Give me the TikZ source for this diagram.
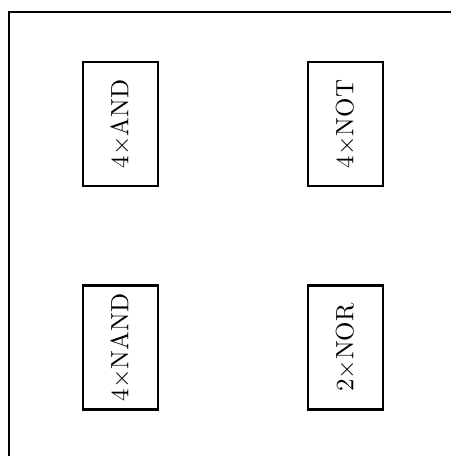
\documentclass[tikz,border=0pt]{standalone}
\begin{document}
\begin{tikzpicture}[x=0.4pt,y=-0.4pt,
  chip/.style={draw,line width=1pt,rotate=90,minimum width=49.6pt,minimum height=30pt,inner sep=0pt}]
\useasboundingbox (0,0) rectangle (451,456);
\draw[line width=1pt] (451,12) -- (9,12) -- (9,456);
\node[chip] (and) at (120.5,124) {$4\times$AND};
\node[chip] (not) at (345.5,124) {$4\times$NOT};
\node[chip] (nand) at (120.5,347.5) {$4\times$NAND};
\node[chip] (nor) at (345.5,347.5) {$2\times$NOR};
\end{tikzpicture}
\end{document}
